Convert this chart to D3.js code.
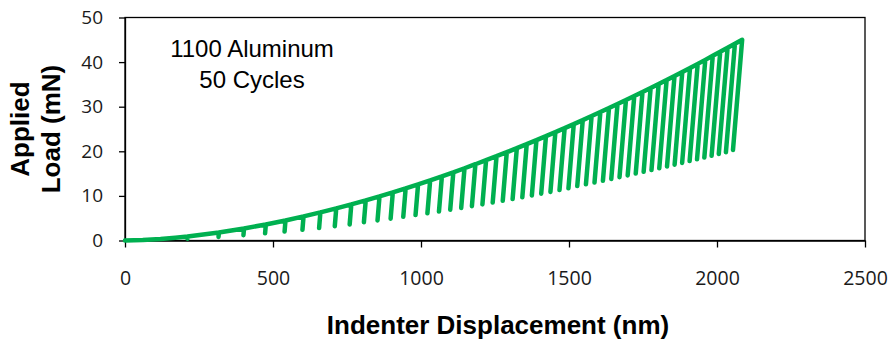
<!DOCTYPE html>
<html>
<head>
<meta charset="utf-8">
<script src="https://cdn.jsdelivr.net/npm/d3@7"></script>
<style>
  html, body { margin: 0; padding: 0; background: #fff; }
  svg { display: block; }
</style>
</head>
<body>
<div id="chart"></div>
<script>
// initial loading before the first unload
const loadingDepth = [0, 60, 120, 170]
const loadingLoad = [0, 0.1, 0.34, 0.62]

// peak of each load/unload cycle (nm, mN)
const peakDepth = [211.5, 317.2, 402.1, 475.8, 542.2, 603.2, 660.1, 713.7, 764.6, 813.3,
  859.9, 904.8, 948.2, 990.2, 1031.0, 1070.6, 1109.2, 1147.0, 1183.8, 1219.9,
  1255.2, 1289.8, 1323.8, 1357.2, 1390.0, 1422.2, 1454.0, 1485.3, 1516.1, 1546.5,
  1576.4, 1606.0, 1635.1, 1663.9, 1692.4, 1720.5, 1748.3, 1775.8, 1802.9, 1829.8,
  1856.5, 1882.8, 1908.9, 1934.8, 1960.4, 1985.7, 2010.9, 2035.8, 2060.5, 2085.0]
const peakLoad = [0.9, 1.8, 2.7, 3.6, 4.5, 5.4, 6.3, 7.2, 8.1, 9.0,
  9.9, 10.8, 11.7, 12.6, 13.5, 14.4, 15.3, 16.2, 17.1, 18.0,
  18.9, 19.8, 20.7, 21.6, 22.5, 23.4, 24.3, 25.2, 26.1, 27.0,
  27.9, 28.8, 29.7, 30.6, 31.5, 32.4, 33.3, 34.2, 35.1, 36.0,
  36.9, 37.8, 38.7, 39.6, 40.5, 41.4, 42.3, 43.2, 44.1, 45.0]

// bottom of each partial unload
const valleyDepth = [210.9, 316.0, 400.2, 473.3, 539.1, 599.5, 655.8, 708.7, 759.0, 807.1,
  853.1, 897.4, 940.1, 981.5, 1021.7, 1060.7, 1098.7, 1135.8, 1172.0, 1207.5,
  1242.2, 1276.2, 1309.5, 1342.3, 1374.5, 1406.1, 1437.3, 1467.9, 1498.1, 1527.9,
  1557.2, 1586.2, 1614.6, 1642.8, 1670.7, 1698.2, 1725.4, 1752.2, 1778.7, 1805.0,
  1831.1, 1856.8, 1882.2, 1907.5, 1932.5, 1957.2, 1981.8, 2006.0, 2030.1, 2054.0]
const valleyLoad = [0.4, 0.8, 1.2, 1.6, 2.0, 2.4, 2.8, 3.2, 3.6, 4.1,
  4.5, 4.9, 5.3, 5.7, 6.1, 6.5, 6.9, 7.3, 7.7, 8.1,
  8.5, 8.9, 9.3, 9.7, 10.1, 10.5, 10.9, 11.3, 11.7, 12.2,
  12.6, 13.0, 13.4, 13.8, 14.2, 14.6, 15.0, 15.4, 15.8, 16.2,
  16.6, 17.0, 17.4, 17.8, 18.2, 18.6, 19.0, 19.4, 19.8, 20.3]

const xTicks = [0, 500, 1000, 1500, 2000, 2500]
const yTicks = [0, 10, 20, 30, 40, 50]
const noteLines = ['1100 Aluminum', '50 Cycles']

const width = 888
const height = 341
const margin = { top: 17.5, right: 23, bottom: 100.5, left: 125 }

const svg = d3.select('#chart').append('svg')
  .attr('width', width)
  .attr('height', height)

const x = d3.scaleLinear().domain([0, 2500]).range([margin.left, width - margin.right])
const y = d3.scaleLinear().domain([0, 50]).range([height - margin.bottom, margin.top])

// x axis
const xAxis = svg.append('g')
  .attr('transform', `translate(0,${y(0)})`)
  .call(d3.axisBottom(x).tickValues(xTicks).tickFormat(d3.format('d'))
    .tickSize(7).tickSizeOuter(0).tickPadding(24))
xAxis.selectAll('text')
  .attr('font-family', '"Open Sans", sans-serif')
  .attr('font-size', 19.5)
  .attr('fill', '#1a1a1a')

// y axis
const yAxis = svg.append('g')
  .attr('transform', `translate(${x(0)},0)`)
  .call(d3.axisLeft(y).tickValues(yTicks).tickFormat(d3.format('d'))
    .tickSize(6).tickSizeOuter(0).tickPadding(16))
yAxis.selectAll('text')
  .attr('font-family', '"Open Sans", sans-serif')
  .attr('font-size', 19)
  .attr('fill', '#1a1a1a')

svg.selectAll('.domain, .tick line').attr('stroke', '#000').attr('stroke-width', 1.3)

// plot frame
svg.append('rect')
  .attr('x', x(0))
  .attr('y', y(50))
  .attr('width', x(2500) - x(0))
  .attr('height', y(0) - y(50))
  .attr('fill', 'none')
  .attr('stroke', '#000')
  .attr('stroke-width', 1.3)

// build the load/unload path
const pts = loadingDepth.map((d, i) => [d, loadingLoad[i]])
peakDepth.forEach((d, i) => {
  pts.push([d, peakLoad[i]])
  pts.push([valleyDepth[i], valleyLoad[i]])
  if (i < peakDepth.length - 1) pts.push([d, peakLoad[i]])
})

const line = d3.line()
  .x(d => x(d[0]))
  .y(d => y(d[1]))

svg.append('path')
  .datum(pts)
  .attr('d', line)
  .attr('fill', 'none')
  .attr('stroke', '#00b050')
  .attr('stroke-width', 4.5)
  .attr('stroke-linejoin', 'round')
  .attr('stroke-linecap', 'round')

// annotation
svg.append('g').selectAll('text')
  .data(noteLines)
  .enter()
  .append('text')
  .attr('x', 252)
  .attr('y', (d, i) => 56.5 + i * 31.5)
  .attr('text-anchor', 'middle')
  .attr('font-family', '"Liberation Sans", Arial, sans-serif')
  .attr('font-size', 24)
  .attr('fill', '#000')
  .text(d => d)

// axis titles
svg.append('text')
  .attr('x', 498)
  .attr('y', 334)
  .attr('text-anchor', 'middle')
  .attr('font-family', '"Liberation Sans", Arial, sans-serif')
  .attr('font-weight', 'bold')
  .attr('font-size', 26)
  .attr('fill', '#000')
  .text('Indenter Displacement (nm)')

const yTitle = [['Applied', 29], ['Load (mN)', 60]]
svg.append('g').selectAll('text')
  .data(yTitle)
  .enter()
  .append('text')
  .attr('transform', d => `translate(${d[1]},${(y(0) + y(50)) / 2}) rotate(-90)`)
  .attr('text-anchor', 'middle')
  .attr('font-family', '"Liberation Sans", Arial, sans-serif')
  .attr('font-weight', 'bold')
  .attr('font-size', 26)
  .attr('fill', '#000')
  .text(d => d[0])
</script>
</body>
</html>
